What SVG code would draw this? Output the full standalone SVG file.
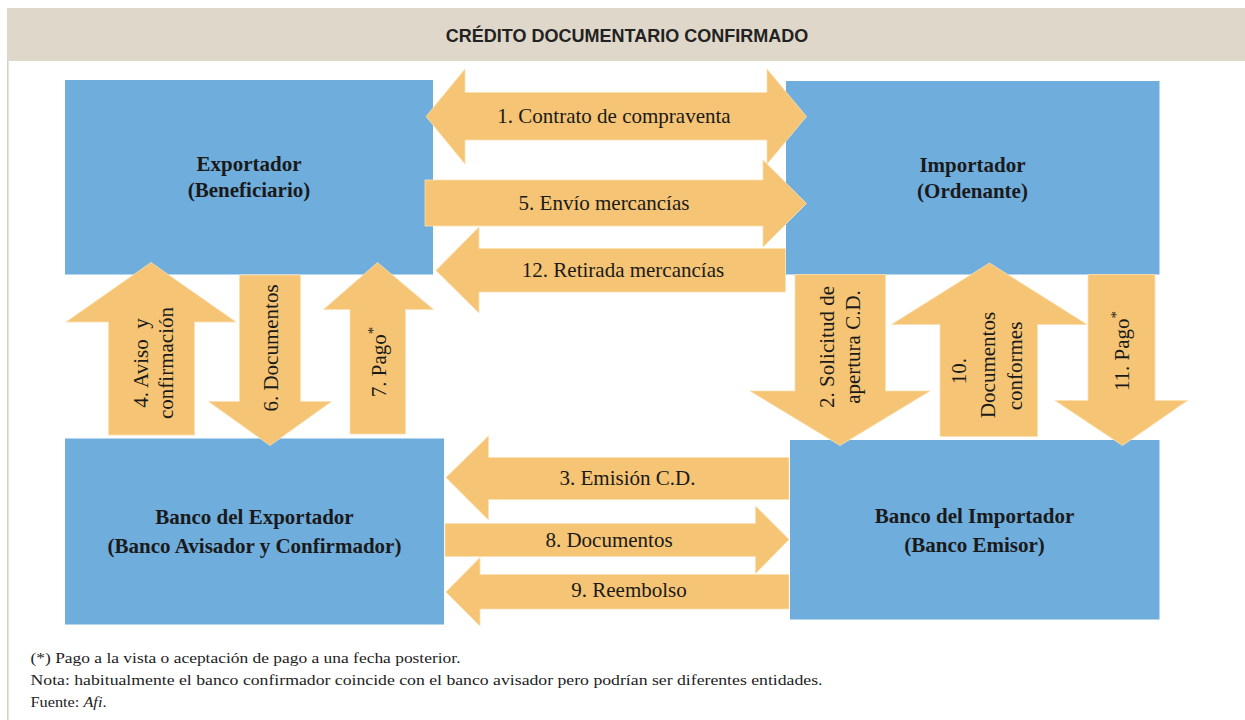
<svg xmlns="http://www.w3.org/2000/svg" width="1245" height="720" viewBox="0 0 1245 720">
<style>
.box{fill:#6faddd}
.arr{fill:#f5c474;stroke:#fbe0b0;stroke-width:0.8}
.lbl{font-family:"Liberation Serif","Times New Roman",serif;font-size:21px;fill:#1a1a1a;text-anchor:middle}
.node{font-family:"Liberation Serif","Times New Roman",serif;font-size:21px;font-weight:bold;fill:#1a1a1a;text-anchor:middle}
.vl{font-family:"Liberation Serif","Times New Roman",serif;font-size:21px;fill:#1a1a1a;text-anchor:middle}
.note{font-family:"Liberation Serif","Times New Roman",serif;font-size:15.5px;fill:#222}
</style>
<rect x="7" y="8" width="1238" height="53" fill="#dfd8ca"/>
<line x1="7.8" y1="61" x2="7.8" y2="720" stroke="#d8d0c2" stroke-width="1.6"/>
<text x="627" y="41.5" font-family="Liberation Sans, Arial, sans-serif" font-size="18" font-weight="bold" fill="#222" text-anchor="middle">CRÉDITO DOCUMENTARIO CONFIRMADO</text>

<g id="exportador">
<rect class="box" x="65" y="80" width="368" height="194.5"/>
<text class="node" x="249" y="171">Exportador</text>
<text class="node" x="249" y="197">(Beneficiario)</text>
</g>
<g id="importador">
<rect class="box" x="786" y="81" width="373.5" height="193.5"/>
<text class="node" x="972.5" y="172">Importador</text>
<text class="node" x="972.5" y="198">(Ordenante)</text>
</g>
<g id="banco-exportador">
<rect class="box" x="65" y="438.5" width="379" height="186"/>
<text class="node" x="254.5" y="524">Banco del Exportador</text>
<text class="node" x="254.5" y="553">(Banco Avisador y Confirmador)</text>
</g>
<g id="banco-importador">
<rect class="box" x="790" y="440" width="369.5" height="179.5"/>
<text class="node" x="974.5" y="523">Banco del Importador</text>
<text class="node" x="974.5" y="552">(Banco Emisor)</text>
</g>

<g id="connectors">
<polygon class="arr" points="426,116.5 465,69 465,92.5 767,92.5 767,69 806.5,116.5 767,164 767,140 465,140 465,164"/>
<text class="lbl" x="614" y="123">1. Contrato de compraventa</text>
<polygon class="arr" points="425,180 763,180 763,160 806.5,203.5 763,247 763,226 425,226"/>
<text class="lbl" x="604" y="210">5. Envío mercancías</text>
<polygon class="arr" points="436,270.5 479,227 479,248.5 785.5,248.5 785.5,292 479,292 479,313"/>
<text class="lbl" x="623" y="277">12. Retirada mercancías</text>
<polygon class="arr" points="151,262.5 236,322 194.5,322 194.5,435 108.5,435 108.5,322 66,322"/>
<text class="vl" transform="translate(148,363) rotate(-90)">4. Aviso&#160;&#160;y</text>
<text class="vl" transform="translate(172.5,363) rotate(-90)">confirmación</text>
<polygon class="arr" points="239.5,275 300.5,275 300.5,401.5 331.5,401.5 270,445.5 208.5,401.5 239.5,401.5"/>
<text class="vl" transform="translate(278,348) rotate(-90)">6. Documentos</text>
<polygon class="arr" points="377.5,262.5 433.5,309.5 405.5,309.5 405.5,434 350,434 350,309.5 323.5,309.5"/>
<text class="vl" transform="translate(386,362) rotate(-90)">7. Pago<tspan dy="-8" font-size="15">*</tspan></text>
<polygon class="arr" points="795,274.5 885.5,274.5 885.5,391 930,391 840,445.5 750,391 795,391"/>
<text class="vl" transform="translate(834,347) rotate(-90)">2. Solicitud de</text>
<text class="vl" transform="translate(860,347) rotate(-90)">apertura C.D.</text>
<polygon class="arr" points="989.5,263 1087,324.5 1037.5,324.5 1037.5,436.5 940,436.5 940,324.5 891.5,324.5"/>
<text class="vl" transform="translate(966,371) rotate(-90)">10.</text>
<text class="vl" transform="translate(995,365) rotate(-90)">Documentos</text>
<text class="vl" transform="translate(1022,366) rotate(-90)">conformes</text>
<polygon class="arr" points="1088,274.5 1155,274.5 1155,400.5 1187.5,400.5 1122.5,445.5 1055,400.5 1088,400.5"/>
<text class="vl" transform="translate(1129,351) rotate(-90)">11. Pago<tspan dy="-8" font-size="15">*</tspan></text>
<polygon class="arr" points="446,477.5 488.5,436 488.5,457.5 789,457.5 789,499.5 488.5,499.5 488.5,520"/>
<text class="lbl" x="627.5" y="485">3. Emisión C.D.</text>
<polygon class="arr" points="445,523.5 755.5,523.5 755.5,506 789,539.5 755.5,573.5 755.5,556.5 445,556.5"/>
<text class="lbl" x="609" y="547">8. Documentos</text>
<polygon class="arr" points="446,592 480,557.5 480,574.5 789,574.5 789,609 480,609 480,626"/>
<text class="lbl" x="629" y="597">9. Reembolso</text>
</g>

<text class="note" x="30.5" y="662.5" textLength="430" lengthAdjust="spacingAndGlyphs">(*) Pago a la vista o aceptación de pago a una fecha posterior.</text>
<text class="note" x="30.5" y="684.5" textLength="792" lengthAdjust="spacingAndGlyphs">Nota: habitualmente el banco confirmador coincide con el banco avisador pero podrían ser diferentes entidades.</text>
<text class="note" x="30.5" y="706.5" textLength="76" lengthAdjust="spacingAndGlyphs">Fuente: <tspan font-style="italic">Afi</tspan>.</text>
</svg>
